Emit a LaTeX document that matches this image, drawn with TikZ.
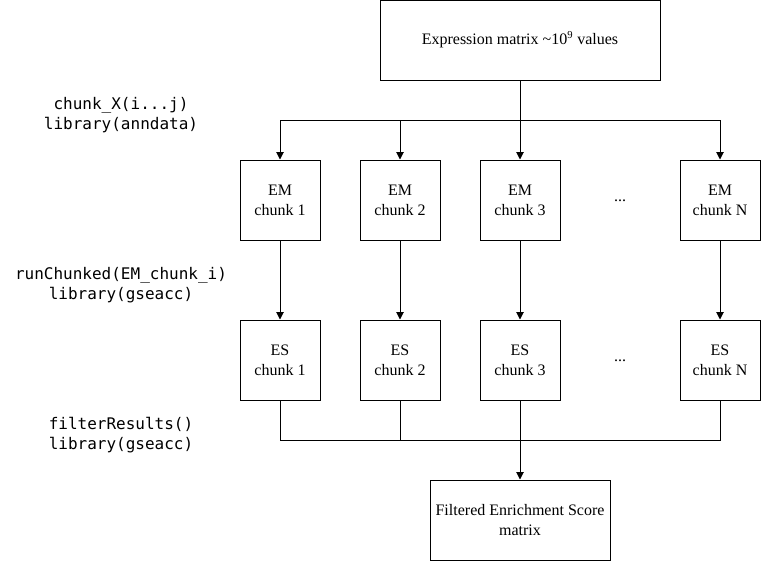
\documentclass[tikz,border=0pt]{standalone}
\usepackage{fontspec}
\setmainfont{Liberation Serif}
\setmonofont{DejaVu Sans Mono}
\usetikzlibrary{arrows.meta}
\begin{document}
\begin{tikzpicture}[x=0.75pt,y=-0.75pt,
  box/.style={draw,line width=0.75pt,inner sep=0pt,align=center,font=\fontsize{12pt}{15pt}\selectfont},
  chunkbox/.style={box,minimum width=60pt,minimum height=60pt},
  code/.style={align=center,inner sep=0pt,font=\fontsize{12pt}{15pt}\selectfont\ttfamily},
  dots/.style={inner sep=0pt,font=\fontsize{12pt}{15pt}\selectfont},
  conn/.style={line width=0.75pt},
  arr/.style={conn,-{Triangle[length=5.5pt,width=5.5pt]}}]
\useasboundingbox (0,0) rectangle (761,561);
\node[box,minimum width=210pt,minimum height=60pt] (top) at (520,40) {Expression matrix \textasciitilde10\textsuperscript{9} values};
\node[chunkbox] (em1) at (280,200) {EM\\chunk 1};
\node[chunkbox] (em2) at (400,200) {EM\\chunk 2};
\node[chunkbox] (em3) at (520,200) {EM\\chunk 3};
\node[chunkbox] (emN) at (720,200) {EM\\chunk N};
\node[chunkbox] (es1) at (280,360) {ES\\chunk 1};
\node[chunkbox] (es2) at (400,360) {ES\\chunk 2};
\node[chunkbox] (es3) at (520,360) {ES\\chunk 3};
\node[chunkbox] (esN) at (720,360) {ES\\chunk N};
\node[box,minimum width=135pt,minimum height=60pt] (fin) at (520,520) {Filtered Enrichment Score\\matrix};
\node[dots] (d1) at (620,201) {...};
\node[dots] (d2) at (620,361) {...};
\node[code] (c1) at (121,115) {chunk\_X(i...j)\\library(anndata)};
\node[code] (c2) at (121,285) {runChunked(EM\_chunk\_i)\\library(gseacc)};
\node[code] (c3) at (121,435) {filterResults()\\library(gseacc)};
\coordinate (j1) at (520,120);
\coordinate (j2) at (520,440);
\draw[conn] (top.south) -- (j1);
\draw[arr] (j1) -| (em1.north);
\draw[arr] (j1) -| (em2.north);
\draw[arr] (j1) -- (em3.north);
\draw[arr] (j1) -| (emN.north);
\draw[arr] (em1) -- (es1);
\draw[arr] (em2) -- (es2);
\draw[arr] (em3) -- (es3);
\draw[arr] (emN) -- (esN);
\draw[conn] (es1.south) |- (j2);
\draw[conn] (es2.south) |- (j2);
\draw[conn] (es3.south) -- (j2);
\draw[conn] (esN.south) |- (j2);
\draw[arr] (j2) -- (fin.north);
\end{tikzpicture}
\end{document}
